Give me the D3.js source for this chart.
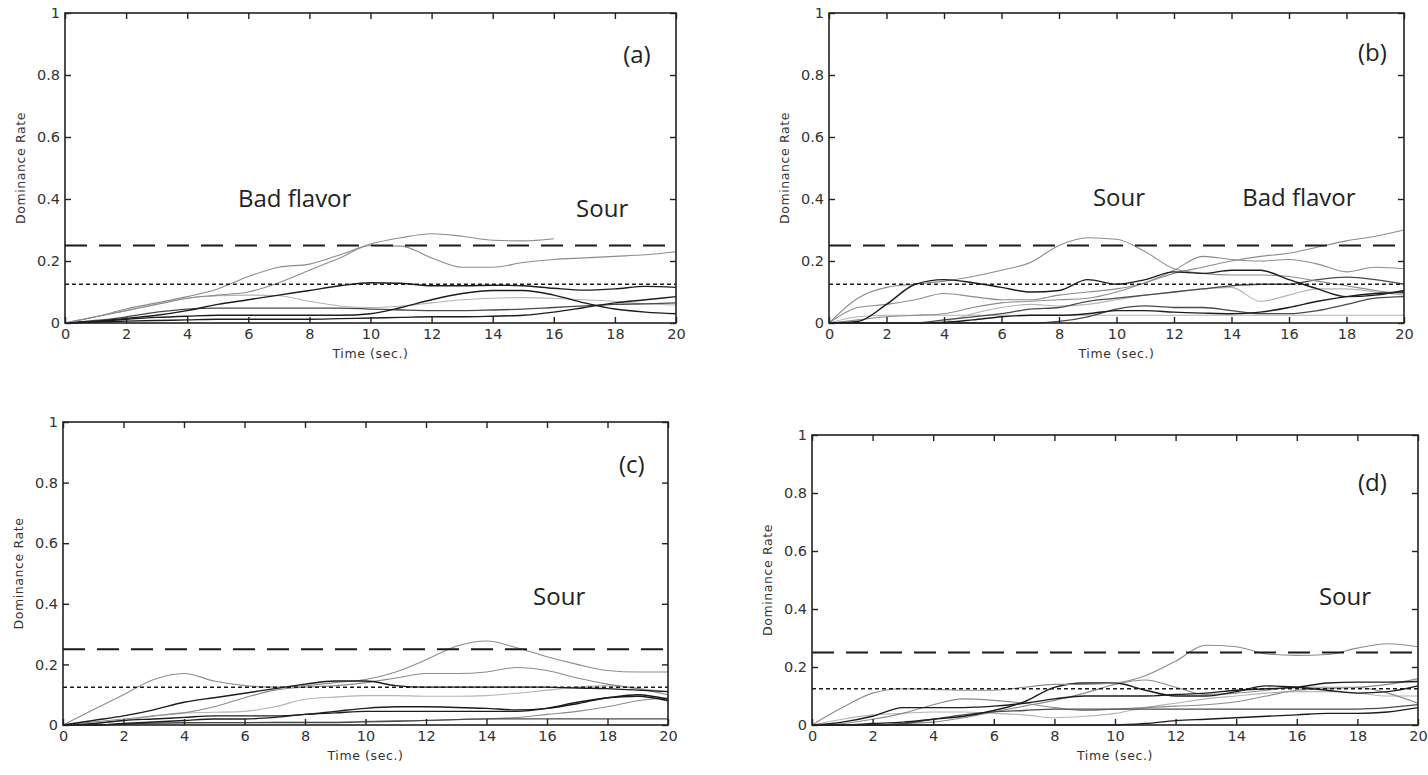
<!DOCTYPE html>
<html>
<head>
<meta charset="utf-8">
<script src="https://cdn.jsdelivr.net/npm/d3@7"></script>
<style>
  html, body { margin: 0; padding: 0; background: #fff; }
  svg { display: block; background: #fff; }
  .tick text { font-family: "DejaVu Sans", Arial, sans-serif; font-size: 14.5px; fill: #333; }
  .tick line { stroke: #222; stroke-width: 1.4; }
  .frame { fill: none; stroke: #222; stroke-width: 1.6; }
  .axis-title { font-family: "DejaVu Sans", Arial, sans-serif; font-size: 12.5px; fill: #333; letter-spacing: 0.6px; }
  .note { font-family: "Open Sans", "Noto Sans", sans-serif; font-size: 24px; fill: #222; }
  .series { fill: none; }
</style>
</head>
<body>
<svg id="chart" width="1428" height="775"></svg>
<script>
'use strict';

// time axis (seconds) shared by every curve
var timeSec = [0, 1, 2, 3, 4, 5, 6, 7, 8, 9, 10, 11, 12, 13, 14, 15, 16, 17, 18, 19, 20];
var xTickValues = [0, 2, 4, 6, 8, 10, 12, 14, 16, 18, 20];
var yTickValues = [0, 0.2, 0.4, 0.6, 0.8, 1];
var chanceLevel = 0.25;
var significanceLevel = 0.125;
var xTitle = 'Time (sec.)';
var yTitle = 'Dominance Rate';

// panel (a)
var aCurve1 = [0, 0.02, 0.045, 0.065, 0.085, 0.11, 0.15, 0.18, 0.19, 0.22, 0.255, 0.275, 0.288, 0.28, 0.267, 0.265, 0.272, null, null, null, null];
var aCurve2 = [0, 0.02, 0.04, 0.06, 0.08, 0.09, 0.1, 0.13, 0.17, 0.21, 0.25, 0.248, 0.21, 0.18, 0.18, 0.195, 0.205, 0.21, 0.215, 0.22, 0.23];
var aCurve3 = [0, 0.02, 0.04, 0.06, 0.08, 0.088, 0.09, 0.088, 0.07, 0.055, 0.05, 0.055, 0.065, 0.075, 0.08, 0.082, 0.08, 0.075, 0.07, 0.062, 0.058];
var aCurve4 = [0, 0.005, 0.015, 0.025, 0.04, 0.06, 0.075, 0.09, 0.105, 0.12, 0.13, 0.128, 0.12, 0.12, 0.122, 0.12, 0.112, 0.106, 0.11, 0.118, 0.115];
var aCurve5 = [0, 0.005, 0.012, 0.018, 0.022, 0.025, 0.025, 0.025, 0.025, 0.025, 0.03, 0.05, 0.075, 0.095, 0.105, 0.105, 0.09, 0.065, 0.045, 0.035, 0.03];
var aCurve6 = [0, 0.008, 0.02, 0.035, 0.045, 0.048, 0.048, 0.048, 0.048, 0.048, 0.045, 0.042, 0.04, 0.04, 0.042, 0.045, 0.05, 0.055, 0.06, 0.062, 0.065];
var aCurve7 = [0, 0.003, 0.006, 0.008, 0.01, 0.012, 0.012, 0.012, 0.012, 0.014, 0.016, 0.018, 0.02, 0.02, 0.022, 0.025, 0.035, 0.05, 0.065, 0.075, 0.085];
var aNotes = ['Bad flavor', 'Sour', '(a)'];

// panel (b)
var bCurve1 = [0, 0.08, 0.115, 0.125, 0.135, 0.15, 0.17, 0.195, 0.25, 0.275, 0.27, 0.23, 0.175, 0.16, 0.155, 0.155, 0.15, 0.135, 0.12, 0.105, 0.095];
var bCurve2 = [0, 0.01, 0.02, 0.025, 0.03, 0.05, 0.065, 0.07, 0.075, 0.08, 0.1, 0.13, 0.16, 0.18, 0.2, 0.215, 0.225, 0.245, 0.265, 0.28, 0.3];
var bCurve3 = [0, 0.05, 0.06, 0.075, 0.095, 0.085, 0.075, 0.075, 0.09, 0.1, 0.11, 0.13, 0.17, 0.215, 0.205, 0.2, 0.205, 0.19, 0.165, 0.18, 0.175];
var bCurve4 = [0, 0.005, 0.06, 0.125, 0.14, 0.13, 0.115, 0.1, 0.105, 0.14, 0.125, 0.14, 0.165, 0.16, 0.17, 0.17, 0.14, 0.11, 0.085, 0.09, 0.105];
var bCurve5 = [0, 0, 0, 0, 0.01, 0.02, 0.03, 0.045, 0.05, 0.07, 0.08, 0.09, 0.1, 0.11, 0.12, 0.125, 0.125, 0.14, 0.148, 0.14, 0.125];
var bCurve6 = [0, 0.02, 0.025, 0.025, 0.025, 0.025, 0.025, 0.025, 0.025, 0.025, 0.025, 0.025, 0.025, 0.025, 0.025, 0.025, 0.025, 0.025, 0.025, 0.025, 0.025];
var bCurve7 = [0, 0, 0, 0, 0.002, 0.01, 0.02, 0.025, 0.025, 0.03, 0.04, 0.04, 0.035, 0.032, 0.03, 0.035, 0.05, 0.07, 0.085, 0.095, 0.1];
var bCurve8 = [0, 0, 0, 0, 0.005, 0.03, 0.05, 0.06, 0.055, 0.06, 0.075, 0.09, 0.1, 0.11, 0.115, 0.07, 0.09, 0.11, 0.11, 0.1, 0.09];
var bCurve9 = [0, 0, 0, 0, 0, 0, 0, 0, 0.005, 0.02, 0.045, 0.055, 0.05, 0.05, 0.04, 0.03, 0.03, 0.04, 0.06, 0.08, 0.085];
var bNotes = ['Sour', 'Bad flavor', '(b)'];

// panel (c)
var cCurve1 = [0, 0.05, 0.1, 0.15, 0.17, 0.145, 0.13, 0.125, 0.13, 0.14, 0.15, 0.175, 0.215, 0.26, 0.277, 0.255, 0.225, 0.2, 0.18, 0.175, 0.175];
var cCurve2 = [0, 0.01, 0.02, 0.03, 0.04, 0.06, 0.09, 0.115, 0.125, 0.13, 0.14, 0.155, 0.17, 0.17, 0.175, 0.19, 0.18, 0.155, 0.135, 0.12, 0.1];
var cCurve3 = [0, 0.015, 0.03, 0.05, 0.075, 0.09, 0.105, 0.12, 0.135, 0.145, 0.145, 0.13, 0.125, 0.125, 0.125, 0.125, 0.125, 0.122, 0.12, 0.115, 0.11];
var cCurve4 = [0, 0.005, 0.015, 0.03, 0.04, 0.042, 0.045, 0.06, 0.085, 0.092, 0.097, 0.097, 0.095, 0.095, 0.097, 0.105, 0.115, 0.125, 0.13, 0.12, 0.11];
var cCurve5 = [0, 0.005, 0.015, 0.02, 0.025, 0.03, 0.03, 0.03, 0.035, 0.045, 0.055, 0.06, 0.06, 0.058, 0.055, 0.05, 0.055, 0.07, 0.09, 0.095, 0.08];
var cCurve6 = [0, 0, 0.005, 0.01, 0.015, 0.02, 0.02, 0.025, 0.035, 0.04, 0.045, 0.045, 0.045, 0.045, 0.045, 0.045, 0.055, 0.075, 0.09, 0.1, 0.085];
var cCurve7 = [0, 0, 0.003, 0.005, 0.007, 0.008, 0.008, 0.01, 0.01, 0.01, 0.012, 0.015, 0.015, 0.018, 0.02, 0.025, 0.035, 0.045, 0.06, 0.08, 0.09];
var cCurve8 = [0, 0, 0.004, 0.006, 0.008, 0.008, 0.008, 0.008, 0.008, 0.008, 0.01, 0.012, 0.015, 0.018, 0.02, 0.02, 0.02, 0.02, 0.02, 0.02, 0.02];
var cNotes = ['Sour', '(c)'];

// panel (d)
var dCurve1 = [0, 0.06, 0.11, 0.125, 0.123, 0.12, 0.12, 0.13, 0.14, 0.14, 0.145, 0.17, 0.22, 0.275, 0.27, 0.245, 0.24, 0.243, 0.265, 0.28, 0.27];
var dCurve2 = [0, 0, 0.005, 0.01, 0.02, 0.03, 0.05, 0.08, 0.13, 0.145, 0.145, 0.12, 0.1, 0.1, 0.115, 0.135, 0.13, 0.12, 0.11, 0.115, 0.135];
var dCurve3 = [0, 0.01, 0.03, 0.06, 0.06, 0.06, 0.065, 0.075, 0.09, 0.1, 0.1, 0.1, 0.105, 0.11, 0.12, 0.125, 0.13, 0.145, 0.148, 0.148, 0.15];
var dCurve4 = [0, 0.005, 0.02, 0.04, 0.07, 0.09, 0.085, 0.075, 0.06, 0.05, 0.055, 0.06, 0.065, 0.07, 0.08, 0.1, 0.12, 0.125, 0.13, 0.14, 0.16];
var dCurve5 = [0, 0, 0, 0.005, 0.01, 0.025, 0.045, 0.065, 0.085, 0.11, 0.14, 0.155, 0.13, 0.105, 0.11, 0.12, 0.13, 0.13, 0.13, 0.11, 0.075];
var dCurve6 = [0, 0.02, 0.035, 0.04, 0.045, 0.045, 0.04, 0.035, 0.025, 0.03, 0.04, 0.06, 0.075, 0.09, 0.1, 0.11, 0.115, 0.115, 0.11, 0.1, 0.1];
var dCurve7 = [0, 0, 0, 0, 0, 0, 0, 0, 0, 0, 0, 0.005, 0.015, 0.02, 0.025, 0.03, 0.035, 0.04, 0.04, 0.045, 0.06];
var dCurve8 = [0, 0, 0, 0.005, 0.02, 0.035, 0.045, 0.05, 0.055, 0.055, 0.055, 0.055, 0.055, 0.055, 0.055, 0.055, 0.055, 0.055, 0.055, 0.06, 0.07];
var dNotes = ['Sour', '(d)'];

// line tones
var tones = {
  black: { stroke: '#1c1c1c', width: 1.4 },
  dark: { stroke: '#4a4a4a', width: 1.3 },
  grey: { stroke: '#8c8c8c', width: 1.1 },
  light: { stroke: '#b4b4b4', width: 1.1 }
};

// panel layout; notes are placed in data coordinates
var panels = [
  {
    box: { left: 65, right: 676, top: 13, bottom: 323 },
    curves: [[aCurve3, 'light'], [aCurve6, 'dark'], [aCurve7, 'black'], [aCurve5, 'black'],
             [aCurve4, 'black'], [aCurve2, 'grey'], [aCurve1, 'grey']],
    notes: [[aNotes[0], 5.66, 0.374], [aNotes[1], 16.73, 0.342], [aNotes[2], 18.27, 0.839]]
  },
  {
    box: { left: 829, right: 1404, top: 13, bottom: 323 },
    curves: [[bCurve6, 'light'], [bCurve8, 'light'], [bCurve9, 'dark'], [bCurve7, 'black'],
             [bCurve5, 'dark'], [bCurve3, 'grey'], [bCurve2, 'grey'], [bCurve1, 'grey'], [bCurve4, 'black']],
    notes: [[bNotes[0], 9.18, 0.377], [bNotes[1], 14.37, 0.377], [bNotes[2], 18.4, 0.845]]
  },
  {
    box: { left: 63, right: 668, top: 422, bottom: 725 },
    curves: [[cCurve4, 'light'], [cCurve7, 'grey'], [cCurve8, 'dark'], [cCurve6, 'black'],
             [cCurve5, 'black'], [cCurve2, 'grey'], [cCurve1, 'grey'], [cCurve3, 'black']],
    notes: [[cNotes[0], 15.54, 0.396], [cNotes[1], 18.38, 0.832]]
  },
  {
    box: { left: 812, right: 1418, top: 435, bottom: 725 },
    curves: [[dCurve6, 'light'], [dCurve4, 'grey'], [dCurve5, 'grey'], [dCurve7, 'black'],
             [dCurve8, 'dark'], [dCurve3, 'black'], [dCurve2, 'black'], [dCurve1, 'grey']],
    notes: [[dNotes[0], 16.73, 0.415], [dNotes[1], 18.02, 0.807]]
  }
];

var svg = d3.select('#chart');

panels.forEach(function (panel) {
  var b = panel.box,
      g = svg.append('g'),
      x = d3.scaleLinear().domain([0, 20]).range([b.left, b.right]),
      y = d3.scaleLinear().domain([0, 1]).range([b.bottom, b.top]),
      line;

  line = d3.line()
      .defined(function (d) { return d !== null; })
      .x(function (d, i) { return x(timeSec[i]); })
      .y(function (d) { return y(d); })
      .curve(d3.curveMonotoneX);

  // response curves
  g.selectAll('path.series')
      .data(panel.curves)
      .enter().append('path')
      .attr('class', 'series')
      .attr('d', function (c) { return line(c[0]); })
      .attr('stroke', function (c) { return tones[c[1]].stroke; })
      .attr('stroke-width', function (c) { return tones[c[1]].width; });

  // chance and significance levels
  g.append('line')
      .attr('x1', b.left).attr('x2', b.right)
      .attr('y1', y(chanceLevel)).attr('y2', y(chanceLevel))
      .attr('stroke', '#1a1a1a').attr('stroke-width', 1.8)
      .attr('stroke-dasharray', '22,12');
  g.append('line')
      .attr('x1', b.left).attr('x2', b.right)
      .attr('y1', y(significanceLevel)).attr('y2', y(significanceLevel))
      .attr('stroke', '#1a1a1a').attr('stroke-width', 1.5)
      .attr('stroke-dasharray', '4,3');

  // axes, ticks pointing inward on all four sides
  g.append('g')
      .attr('transform', 'translate(0,' + b.bottom + ')')
      .call(d3.axisBottom(x).tickValues(xTickValues).tickSize(-6).tickPadding(6).tickFormat(d3.format('d')))
      .call(function (s) { s.select('.domain').remove(); });
  g.append('g')
      .attr('transform', 'translate(0,' + b.top + ')')
      .call(d3.axisTop(x).tickValues(xTickValues).tickSize(-6).tickFormat(''))
      .call(function (s) { s.select('.domain').remove(); });
  g.append('g')
      .attr('transform', 'translate(' + b.left + ',0)')
      .call(d3.axisLeft(y).tickValues(yTickValues).tickSize(-6).tickPadding(5).tickFormat(d3.format('~g')))
      .call(function (s) { s.select('.domain').remove(); });
  g.append('g')
      .attr('transform', 'translate(' + b.right + ',0)')
      .call(d3.axisRight(y).tickValues(yTickValues).tickSize(-6).tickFormat(''))
      .call(function (s) { s.select('.domain').remove(); });

  g.append('rect')
      .attr('class', 'frame')
      .attr('x', b.left).attr('y', b.top)
      .attr('width', b.right - b.left).attr('height', b.bottom - b.top);

  // titles
  g.append('text')
      .attr('class', 'axis-title')
      .attr('text-anchor', 'middle')
      .attr('x', (b.left + b.right) / 2)
      .attr('y', b.bottom + 35)
      .text(xTitle);
  g.append('text')
      .attr('class', 'axis-title')
      .attr('text-anchor', 'middle')
      .attr('transform', 'translate(' + (b.left - 40) + ',' + ((b.top + b.bottom) / 2) + ') rotate(-90)')
      .text(yTitle);

  // in-plot annotations
  g.selectAll('text.note')
      .data(panel.notes)
      .enter().append('text')
      .attr('class', 'note')
      .attr('x', function (n) { return x(n[1]); })
      .attr('y', function (n) { return y(n[2]); })
      .text(function (n) { return n[0]; });
});
</script>
</body>
</html>
